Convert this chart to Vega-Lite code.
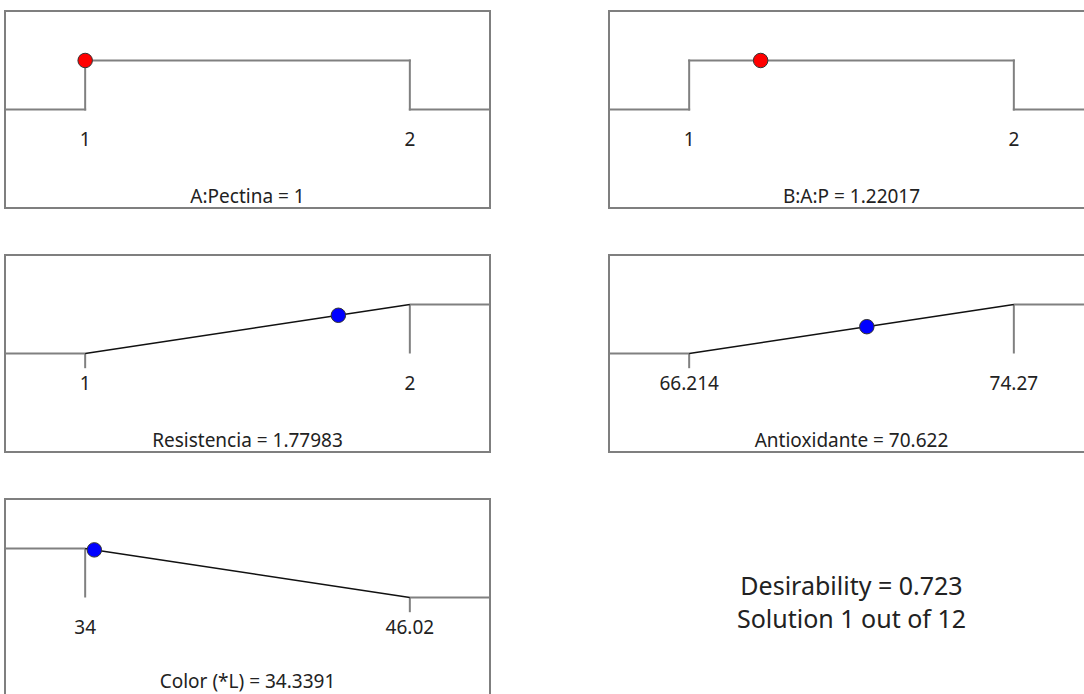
{
  "$schema": "https://vega.github.io/schema/vega-lite/v6.json",
  "padding": {"left": 2, "top": 10, "right": 0, "bottom": 0},
  "background": "white",
  "config": {
    "view": {"stroke": "#7f7f7f", "strokeWidth": 2},
    "font": "Noto Sans",
    "text": {"font": "Noto Sans", "color": "#222222"}
  },
  "columns": 2,
  "spacing": {"row": 45, "column": 113},
  "concat": [
    {
      "width": 485, "height": 197,
      "layer": [
        {
          "data": {"values": [
            {"x": 0.7531, "d": 0, "x2": 1, "d2": 0},
            {"x": 1, "d": 0, "x2": 1, "d2": 1},
            {"x": 1, "d": 1, "x2": 2, "d2": 1},
            {"x": 2, "d": 1, "x2": 2, "d2": 0},
            {"x": 2, "d": 0, "x2": 2.2469, "d2": 0}
          ]},
          "mark": {"type": "rule", "color": "#808080", "strokeWidth": 2, "strokeCap": "square"},
          "encoding": {
            "x": {"field": "x", "type": "quantitative", "scale": {"domain": [0.7531, 2.2469], "nice": false, "zero": false}, "axis": null},
            "x2": {"field": "x2"},
            "y": {"field": "d", "type": "quantitative", "scale": {"domain": [-2.01, 2.01], "nice": false, "zero": false}, "axis": null},
            "y2": {"field": "d2"}
          }
        },
        {
          "data": {"values": [{"x": 1, "d": 1}]},
          "mark": {"type": "circle", "size": 210, "color": "#ff0000", "opacity": 1, "stroke": "#333333", "strokeWidth": 1},
          "encoding": {
            "x": {"field": "x", "type": "quantitative", "scale": {"domain": [0.7531, 2.2469], "nice": false, "zero": false}, "axis": null},
            "y": {"field": "d", "type": "quantitative", "scale": {"domain": [-2.01, 2.01], "nice": false, "zero": false}, "axis": null}
          }
        },
        {
          "data": {"values": [{"x": 1, "label": "1"}, {"x": 2, "label": "2"}]},
          "mark": {"type": "text", "fontSize": 19, "baseline": "middle", "align": "center"},
          "encoding": {
            "x": {"field": "x", "type": "quantitative", "scale": {"domain": [0.7531, 2.2469], "nice": false, "zero": false}, "axis": null},
            "y": {"datum": -0.63, "type": "quantitative", "scale": {"domain": [-2.01, 2.01], "nice": false, "zero": false}, "axis": null},
            "text": {"field": "label"}
          }
        },
        {
          "data": {"values": [{"label": "A:Pectina = 1"}]},
          "mark": {"type": "text", "fontSize": 19, "baseline": "middle", "align": "center"},
          "encoding": {
            "x": {"datum": 1.5, "type": "quantitative", "scale": {"domain": [0.7531, 2.2469], "nice": false, "zero": false}, "axis": null},
            "y": {"datum": -1.78, "type": "quantitative", "scale": {"domain": [-2.01, 2.01], "nice": false, "zero": false}, "axis": null},
            "text": {"field": "label"}
          }
        }
      ]
    },
    {
      "width": 485, "height": 197,
      "layer": [
        {
          "data": {"values": [
            {"x": 0.7531, "d": 0, "x2": 1, "d2": 0},
            {"x": 1, "d": 0, "x2": 1, "d2": 1},
            {"x": 1, "d": 1, "x2": 2, "d2": 1},
            {"x": 2, "d": 1, "x2": 2, "d2": 0},
            {"x": 2, "d": 0, "x2": 2.2469, "d2": 0}
          ]},
          "mark": {"type": "rule", "color": "#808080", "strokeWidth": 2, "strokeCap": "square"},
          "encoding": {
            "x": {"field": "x", "type": "quantitative", "scale": {"domain": [0.7531, 2.2469], "nice": false, "zero": false}, "axis": null},
            "x2": {"field": "x2"},
            "y": {"field": "d", "type": "quantitative", "scale": {"domain": [-2.01, 2.01], "nice": false, "zero": false}, "axis": null},
            "y2": {"field": "d2"}
          }
        },
        {
          "data": {"values": [{"x": 1.22017, "d": 1}]},
          "mark": {"type": "circle", "size": 210, "color": "#ff0000", "opacity": 1, "stroke": "#333333", "strokeWidth": 1},
          "encoding": {
            "x": {"field": "x", "type": "quantitative", "scale": {"domain": [0.7531, 2.2469], "nice": false, "zero": false}, "axis": null},
            "y": {"field": "d", "type": "quantitative", "scale": {"domain": [-2.01, 2.01], "nice": false, "zero": false}, "axis": null}
          }
        },
        {
          "data": {"values": [{"x": 1, "label": "1"}, {"x": 2, "label": "2"}]},
          "mark": {"type": "text", "fontSize": 19, "baseline": "middle", "align": "center"},
          "encoding": {
            "x": {"field": "x", "type": "quantitative", "scale": {"domain": [0.7531, 2.2469], "nice": false, "zero": false}, "axis": null},
            "y": {"datum": -0.63, "type": "quantitative", "scale": {"domain": [-2.01, 2.01], "nice": false, "zero": false}, "axis": null},
            "text": {"field": "label"}
          }
        },
        {
          "data": {"values": [{"label": "B:A:P = 1.22017"}]},
          "mark": {"type": "text", "fontSize": 19, "baseline": "middle", "align": "center"},
          "encoding": {
            "x": {"datum": 1.5, "type": "quantitative", "scale": {"domain": [0.7531, 2.2469], "nice": false, "zero": false}, "axis": null},
            "y": {"datum": -1.78, "type": "quantitative", "scale": {"domain": [-2.01, 2.01], "nice": false, "zero": false}, "axis": null},
            "text": {"field": "label"}
          }
        }
      ]
    },
    {
      "width": 485, "height": 197,
      "layer": [
        {
          "data": {"values": [
            {"x": 0.7531, "d": 0, "x2": 1, "d2": 0},
            {"x": 1, "d": 0, "x2": 1, "d2": -0.3},
            {"x": 2, "d": 1, "x2": 2, "d2": 0},
            {"x": 2, "d": 1, "x2": 2.2469, "d2": 1}
          ]},
          "mark": {"type": "rule", "color": "#808080", "strokeWidth": 2},
          "encoding": {
            "x": {"field": "x", "type": "quantitative", "scale": {"domain": [0.7531, 2.2469], "nice": false, "zero": false}, "axis": null},
            "x2": {"field": "x2"},
            "y": {"field": "d", "type": "quantitative", "scale": {"domain": [-2.01, 2.01], "nice": false, "zero": false}, "axis": null},
            "y2": {"field": "d2"}
          }
        },
        {
          "data": {"values": [{"x": 1, "d": 0, "x2": 2, "d2": 1}]},
          "mark": {"type": "rule", "color": "#111111", "strokeWidth": 1.4},
          "encoding": {
            "x": {"field": "x", "type": "quantitative", "scale": {"domain": [0.7531, 2.2469], "nice": false, "zero": false}, "axis": null},
            "x2": {"field": "x2"},
            "y": {"field": "d", "type": "quantitative", "scale": {"domain": [-2.01, 2.01], "nice": false, "zero": false}, "axis": null},
            "y2": {"field": "d2"}
          }
        },
        {
          "data": {"values": [{"x": 1.77983, "d": 0.77983}]},
          "mark": {"type": "circle", "size": 210, "color": "#0000ff", "opacity": 1, "stroke": "#333333", "strokeWidth": 1},
          "encoding": {
            "x": {"field": "x", "type": "quantitative", "scale": {"domain": [0.7531, 2.2469], "nice": false, "zero": false}, "axis": null},
            "y": {"field": "d", "type": "quantitative", "scale": {"domain": [-2.01, 2.01], "nice": false, "zero": false}, "axis": null}
          }
        },
        {
          "data": {"values": [{"x": 1, "label": "1"}, {"x": 2, "label": "2"}]},
          "mark": {"type": "text", "fontSize": 19, "baseline": "middle", "align": "center"},
          "encoding": {
            "x": {"field": "x", "type": "quantitative", "scale": {"domain": [0.7531, 2.2469], "nice": false, "zero": false}, "axis": null},
            "y": {"datum": -0.63, "type": "quantitative", "scale": {"domain": [-2.01, 2.01], "nice": false, "zero": false}, "axis": null},
            "text": {"field": "label"}
          }
        },
        {
          "data": {"values": [{"label": "Resistencia = 1.77983"}]},
          "mark": {"type": "text", "fontSize": 19, "baseline": "middle", "align": "center"},
          "encoding": {
            "x": {"datum": 1.5, "type": "quantitative", "scale": {"domain": [0.7531, 2.2469], "nice": false, "zero": false}, "axis": null},
            "y": {"datum": -1.78, "type": "quantitative", "scale": {"domain": [-2.01, 2.01], "nice": false, "zero": false}, "axis": null},
            "text": {"field": "label"}
          }
        }
      ]
    },
    {
      "width": 485, "height": 197,
      "layer": [
        {
          "data": {"values": [
            {"x": 64.225, "d": 0, "x2": 66.214, "d2": 0},
            {"x": 66.214, "d": 0, "x2": 66.214, "d2": -0.3},
            {"x": 74.27, "d": 1, "x2": 74.27, "d2": 0},
            {"x": 74.27, "d": 1, "x2": 76.259, "d2": 1}
          ]},
          "mark": {"type": "rule", "color": "#808080", "strokeWidth": 2},
          "encoding": {
            "x": {"field": "x", "type": "quantitative", "scale": {"domain": [64.225, 76.259], "nice": false, "zero": false}, "axis": null},
            "x2": {"field": "x2"},
            "y": {"field": "d", "type": "quantitative", "scale": {"domain": [-2.01, 2.01], "nice": false, "zero": false}, "axis": null},
            "y2": {"field": "d2"}
          }
        },
        {
          "data": {"values": [{"x": 66.214, "d": 0, "x2": 74.27, "d2": 1}]},
          "mark": {"type": "rule", "color": "#111111", "strokeWidth": 1.4},
          "encoding": {
            "x": {"field": "x", "type": "quantitative", "scale": {"domain": [64.225, 76.259], "nice": false, "zero": false}, "axis": null},
            "x2": {"field": "x2"},
            "y": {"field": "d", "type": "quantitative", "scale": {"domain": [-2.01, 2.01], "nice": false, "zero": false}, "axis": null},
            "y2": {"field": "d2"}
          }
        },
        {
          "data": {"values": [{"x": 70.622, "d": 0.5472}]},
          "mark": {"type": "circle", "size": 210, "color": "#0000ff", "opacity": 1, "stroke": "#333333", "strokeWidth": 1},
          "encoding": {
            "x": {"field": "x", "type": "quantitative", "scale": {"domain": [64.225, 76.259], "nice": false, "zero": false}, "axis": null},
            "y": {"field": "d", "type": "quantitative", "scale": {"domain": [-2.01, 2.01], "nice": false, "zero": false}, "axis": null}
          }
        },
        {
          "data": {"values": [{"x": 66.214, "label": "66.214"}, {"x": 74.27, "label": "74.27"}]},
          "mark": {"type": "text", "fontSize": 19, "baseline": "middle", "align": "center"},
          "encoding": {
            "x": {"field": "x", "type": "quantitative", "scale": {"domain": [64.225, 76.259], "nice": false, "zero": false}, "axis": null},
            "y": {"datum": -0.63, "type": "quantitative", "scale": {"domain": [-2.01, 2.01], "nice": false, "zero": false}, "axis": null},
            "text": {"field": "label"}
          }
        },
        {
          "data": {"values": [{"label": "Antioxidante = 70.622"}]},
          "mark": {"type": "text", "fontSize": 19, "baseline": "middle", "align": "center"},
          "encoding": {
            "x": {"datum": 70.242, "type": "quantitative", "scale": {"domain": [64.225, 76.259], "nice": false, "zero": false}, "axis": null},
            "y": {"datum": -1.78, "type": "quantitative", "scale": {"domain": [-2.01, 2.01], "nice": false, "zero": false}, "axis": null},
            "text": {"field": "label"}
          }
        }
      ]
    },
    {
      "width": 485, "height": 197,
      "layer": [
        {
          "data": {"values": [
            {"x": 31.032, "d": 1, "x2": 34, "d2": 1},
            {"x": 34, "d": 1, "x2": 34, "d2": 0},
            {"x": 46.02, "d": 0, "x2": 46.02, "d2": -0.3},
            {"x": 46.02, "d": 0, "x2": 48.988, "d2": 0}
          ]},
          "mark": {"type": "rule", "color": "#808080", "strokeWidth": 2},
          "encoding": {
            "x": {"field": "x", "type": "quantitative", "scale": {"domain": [31.032, 48.988], "nice": false, "zero": false}, "axis": null},
            "x2": {"field": "x2"},
            "y": {"field": "d", "type": "quantitative", "scale": {"domain": [-2.01, 2.01], "nice": false, "zero": false}, "axis": null},
            "y2": {"field": "d2"}
          }
        },
        {
          "data": {"values": [{"x": 34, "d": 1, "x2": 46.02, "d2": 0}]},
          "mark": {"type": "rule", "color": "#111111", "strokeWidth": 1.4},
          "encoding": {
            "x": {"field": "x", "type": "quantitative", "scale": {"domain": [31.032, 48.988], "nice": false, "zero": false}, "axis": null},
            "x2": {"field": "x2"},
            "y": {"field": "d", "type": "quantitative", "scale": {"domain": [-2.01, 2.01], "nice": false, "zero": false}, "axis": null},
            "y2": {"field": "d2"}
          }
        },
        {
          "data": {"values": [{"x": 34.3391, "d": 0.9718}]},
          "mark": {"type": "circle", "size": 210, "color": "#0000ff", "opacity": 1, "stroke": "#333333", "strokeWidth": 1},
          "encoding": {
            "x": {"field": "x", "type": "quantitative", "scale": {"domain": [31.032, 48.988], "nice": false, "zero": false}, "axis": null},
            "y": {"field": "d", "type": "quantitative", "scale": {"domain": [-2.01, 2.01], "nice": false, "zero": false}, "axis": null}
          }
        },
        {
          "data": {"values": [{"x": 34, "label": "34"}, {"x": 46.02, "label": "46.02"}]},
          "mark": {"type": "text", "fontSize": 19, "baseline": "middle", "align": "center"},
          "encoding": {
            "x": {"field": "x", "type": "quantitative", "scale": {"domain": [31.032, 48.988], "nice": false, "zero": false}, "axis": null},
            "y": {"datum": -0.63, "type": "quantitative", "scale": {"domain": [-2.01, 2.01], "nice": false, "zero": false}, "axis": null},
            "text": {"field": "label"}
          }
        },
        {
          "data": {"values": [{"label": "Color (*L) = 34.3391"}]},
          "mark": {"type": "text", "fontSize": 19, "baseline": "middle", "align": "center"},
          "encoding": {
            "x": {"datum": 40.01, "type": "quantitative", "scale": {"domain": [31.032, 48.988], "nice": false, "zero": false}, "axis": null},
            "y": {"datum": -1.72, "type": "quantitative", "scale": {"domain": [-2.01, 2.01], "nice": false, "zero": false}, "axis": null},
            "text": {"field": "label"}
          }
        }
      ]
    },
    {
      "width": 485, "height": 197,
      "view": {"stroke": null},
      "layer": [
        {
          "data": {"values": [{"label": "Desirability = 0.723"}]},
          "mark": {"type": "text", "fontSize": 25, "baseline": "middle", "align": "center"},
          "encoding": {
            "x": {"datum": 0, "type": "quantitative", "scale": {"domain": [-1, 1]}, "axis": null},
            "y": {"datum": 0.206, "type": "quantitative", "scale": {"domain": [-2.01, 2.01], "nice": false, "zero": false}, "axis": null},
            "text": {"field": "label"}
          }
        },
        {
          "data": {"values": [{"label": "Solution 1 out of 12"}]},
          "mark": {"type": "text", "fontSize": 25, "baseline": "middle", "align": "center"},
          "encoding": {
            "x": {"datum": 0, "type": "quantitative", "scale": {"domain": [-1, 1]}, "axis": null},
            "y": {"datum": -0.467, "type": "quantitative", "scale": {"domain": [-2.01, 2.01], "nice": false, "zero": false}, "axis": null},
            "text": {"field": "label"}
          }
        }
      ]
    }
  ]
}
